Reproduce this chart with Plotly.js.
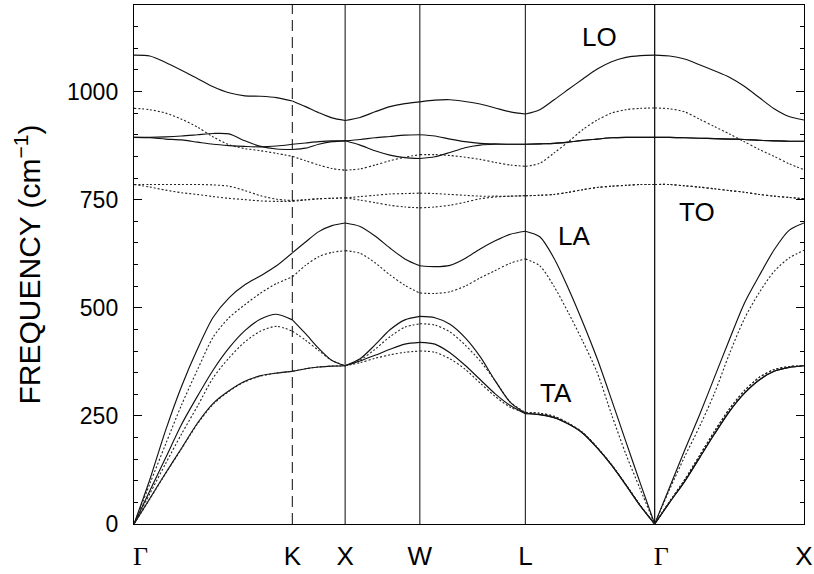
<!DOCTYPE html>
<html>
<head>
<meta charset="utf-8">
<script src="https://cdn.plot.ly/plotly-3.0.1.min.js"></script>
<style>
  html, body { margin: 0; padding: 0; background: #fff; }
  #chart { width: 814px; height: 574px; }
</style>
</head>
<body>
<div id="chart"></div>
<script>
// High-symmetry path labels and segment lengths (units of 2π/a)
const pointLabels = ['Γ', 'K', 'X', 'W', 'L', 'Γ', 'X'];
const segmentLengths = [3 * Math.SQRT2 / 4, Math.SQRT2 / 4, 0.5, Math.SQRT2 / 2, Math.sqrt(3) / 2, 1.0];
// sampling intervals on each segment: Γ-K, K-X, X-W, W-L, L-Γ, Γ-X
const segmentSteps = [10, 4, 5, 7, 9, 10];

// Frequencies (cm^-1) along the whole path, solid = first model, dotted = second model
const loSolid = [1084, 1082, 1067, 1049, 1030, 1011, 997, 990, 989, 986, 978,
  965, 951, 939, 933,
  940, 953, 965, 972, 976,
  980, 981, 977, 971, 962, 953, 948,
  958, 981, 1005, 1029, 1052, 1069, 1079, 1083, 1084,
  1082, 1075, 1062, 1048, 1033, 1012, 986, 960, 942, 934];
const loDotted = [961, 958, 950, 936, 918, 895, 877, 868, 863, 857, 850,
  840, 830, 822, 818,
  821, 830, 840, 848, 854,
  854, 852, 848, 843, 836, 830, 827,
  834, 858, 884, 912, 934, 950, 958, 961, 962,
  960, 953, 936, 919, 902, 884, 866, 850, 833, 819];
const toSolidA = [894, 894, 895, 897, 900, 903, 902, 886, 873, 867, 866,
  869, 878, 884, 886,
  889, 893, 896, 899, 900,
  897, 890, 884, 880, 879, 878, 878,
  879, 880, 883, 887, 890, 893, 894, 894, 894,
  894, 893, 892, 891, 890, 889, 887, 886, 885, 885];
const toSolidB = [894, 893, 890, 888, 883, 878, 875, 873, 872, 874, 878,
  881, 884, 886, 886,
  876, 863, 853, 847, 845,
  849, 859, 870, 876, 878, 878, 878,
  879, 880, 883, 887, 890, 893, 894, 894, 894,
  894, 893, 892, 891, 890, 889, 887, 886, 885, 885];
const toDottedA = [785, 785, 785, 785, 785, 784, 781, 771, 759, 751, 748,
  750, 752, 753, 754,
  757, 760, 763, 764, 765,
  764, 762, 760, 758, 758, 758, 759,
  760, 762, 767, 773, 778, 781, 783, 785, 785,
  785, 782, 779, 775, 771, 767, 762, 758, 755, 752];
const toDottedB = [785, 779, 772, 766, 762, 757, 753, 750, 747, 746, 746,
  749, 752, 753, 754,
  749, 743, 737, 733, 731,
  733, 737, 744, 752, 756, 758, 759,
  760, 762, 767, 773, 778, 781, 783, 785, 785,
  785, 782, 779, 775, 771, 767, 762, 758, 755, 752];
const laSolid = [0, 103, 217, 318, 404, 478, 523, 553, 574, 597, 627,
  652, 676, 690, 696,
  688, 666, 638, 613, 597,
  595, 598, 614, 636, 655, 670, 677,
  664, 614, 544, 466, 382, 287, 190, 94, 0,
  85, 170, 252, 339, 426, 510, 574, 634, 679, 696];
const laDotted = [0, 93, 185, 275, 356, 432, 477, 507, 534, 556, 571,
  598, 618, 628, 632,
  626, 604, 576, 552, 534,
  533, 537, 550, 569, 586, 603, 613,
  597, 549, 488, 422, 350, 253, 161, 80, 0,
  80, 155, 225, 302, 393, 474, 535, 584, 615, 633];
const ta1Solid = [0, 77, 153, 230, 295, 356, 407, 447, 474, 485, 472,
  440, 406, 378, 366,
  382, 414, 449, 472, 480,
  477, 462, 431, 387, 331, 281, 256,
  253, 246, 231, 210, 176, 136, 90, 42, 0,
  50, 98, 153, 208, 260, 302, 333, 353, 362, 366];
const ta1Dotted = [0, 70, 140, 208, 272, 338, 384, 421, 446, 457, 446,
  425, 401, 378, 366,
  379, 404, 433, 455, 463,
  460, 444, 414, 377, 331, 282, 258,
  256, 249, 233, 211, 177, 137, 91, 43, 0,
  52, 102, 158, 214, 266, 308, 339, 357, 364, 366];
const ta2Solid = [0, 59, 118, 175, 233, 279, 308, 330, 343, 349, 353,
  359, 363, 365, 366,
  377, 390, 404, 416, 420,
  416, 396, 367, 334, 301, 274, 255,
  253, 246, 231, 210, 176, 136, 90, 42, 0,
  50, 98, 153, 208, 260, 302, 333, 353, 362, 366];
const ta2Dotted = [0, 58, 117, 174, 231, 277, 307, 329, 342, 349, 353,
  359, 363, 365, 366,
  373, 383, 391, 397, 400,
  397, 382, 358, 326, 295, 270, 257,
  256, 249, 233, 211, 177, 137, 91, 43, 0,
  52, 102, 158, 214, 266, 308, 339, 357, 364, 366];

// Branch labels placed in (q, frequency) coordinates
const branchNames = ['LO', 'TO', 'LA', 'TA'];
const branchNameQ = [3.121, 3.771, 2.947, 2.827];
const branchNameW = [1125, 722, 667, 303];

const yTicks = [0, 250, 500, 750, 1000];

// ---- path coordinates ----
const symQ = [0];
segmentLengths.forEach(l => symQ.push(symQ[symQ.length - 1] + l));

const pathQ = [];
const segRanges = [];
segmentSteps.forEach((n, s) => {
  const start = pathQ.length === 0 ? 0 : pathQ.length - 1;
  for (let j = (s === 0 ? 0 : 1); j <= n; j++) {
    pathQ.push(symQ[s] + segmentLengths[s] * j / n);
  }
  segRanges.push([start, pathQ.length - 1]);
});

const solidStyle = { color: '#111', width: 1.15, shape: 'spline', smoothing: 0.8 };
const dottedStyle = { color: '#222', width: 1.1, dash: '2px,2px', shape: 'spline', smoothing: 0.8 };

const branches = [
  [loSolid, solidStyle], [toSolidA, solidStyle], [toSolidB, solidStyle],
  [laSolid, solidStyle], [ta1Solid, solidStyle], [ta2Solid, solidStyle],
  [loDotted, dottedStyle], [toDottedA, dottedStyle], [toDottedB, dottedStyle],
  [laDotted, dottedStyle], [ta1Dotted, dottedStyle], [ta2Dotted, dottedStyle]
];

const traces = [];
branches.forEach(([w, style]) => {
  segRanges.forEach(([a, b]) => {
    traces.push({
      type: 'scatter', mode: 'lines',
      x: pathQ.slice(a, b + 1), y: w.slice(a, b + 1),
      line: style, hoverinfo: 'skip', showlegend: false
    });
  });
});

// vertical lines at the interior high-symmetry points (K is dashed)
const shapes = symQ.slice(1, -1).map((q, i) => ({
  type: 'line', xref: 'x', yref: 'paper', x0: q, x1: q, y0: 0, y1: 1,
  line: { color: i === 4 ? '#000' : '#333', width: 1.2, dash: i === 0 ? '11px,6px' : 'solid' },
  layer: 'below'
}));

const annotations = branchNames.map((t, i) => ({
  x: branchNameQ[i], y: branchNameW[i], xref: 'x', yref: 'y',
  text: t, showarrow: false,
  font: { family: 'Liberation Sans, Arial, sans-serif', size: 26, color: '#000' }
}));

// Γ is set in a serif face, with a leading en space to sit right of its line
const tickText = pointLabels.map(t => t === 'Γ'
  ? '<span style="font-family:Liberation Serif">\u2002Γ</span>' : t);

const layout = {
  width: 814, height: 574,
  margin: { l: 134, r: 10, t: 5, b: 50 },
  paper_bgcolor: '#fff', plot_bgcolor: '#fff',
  font: { family: 'Liberation Sans, Arial, sans-serif', color: '#000' },
  showlegend: false,
  xaxis: {
    range: [0, symQ[symQ.length - 1]],
    showgrid: false, zeroline: false,
    showline: true, mirror: true, linecolor: '#000', linewidth: 1.2,
    ticks: '', tickmode: 'array', tickvals: symQ, ticktext: tickText,
    tickfont: { size: 26, color: '#000' },
    ticklabelstandoff: 9
  },
  yaxis: {
    range: [0, 1200],
    showgrid: false, zeroline: false,
    showline: true, mirror: 'ticks', linecolor: '#000', linewidth: 1.2,
    ticks: 'inside', ticklen: 8, tickwidth: 1.2, tickcolor: '#000',
    tickmode: 'array', tickvals: yTicks,
    tickfont: { size: 23, color: '#000' },
    ticklabelstandoff: 10,
    minor: { dtick: 50, tick0: 0, ticks: 'inside', ticklen: 4, tickwidth: 1, tickcolor: '#000' },
    title: { text: 'FREQUENCY (cm<sup>−1</sup>)', font: { size: 30, color: '#000' }, standoff: 17 }
  },
  shapes: shapes,
  annotations: annotations
};

Plotly.newPlot('chart', traces, layout, { displayModeBar: false, staticPlot: true });
</script>
</body>
</html>
